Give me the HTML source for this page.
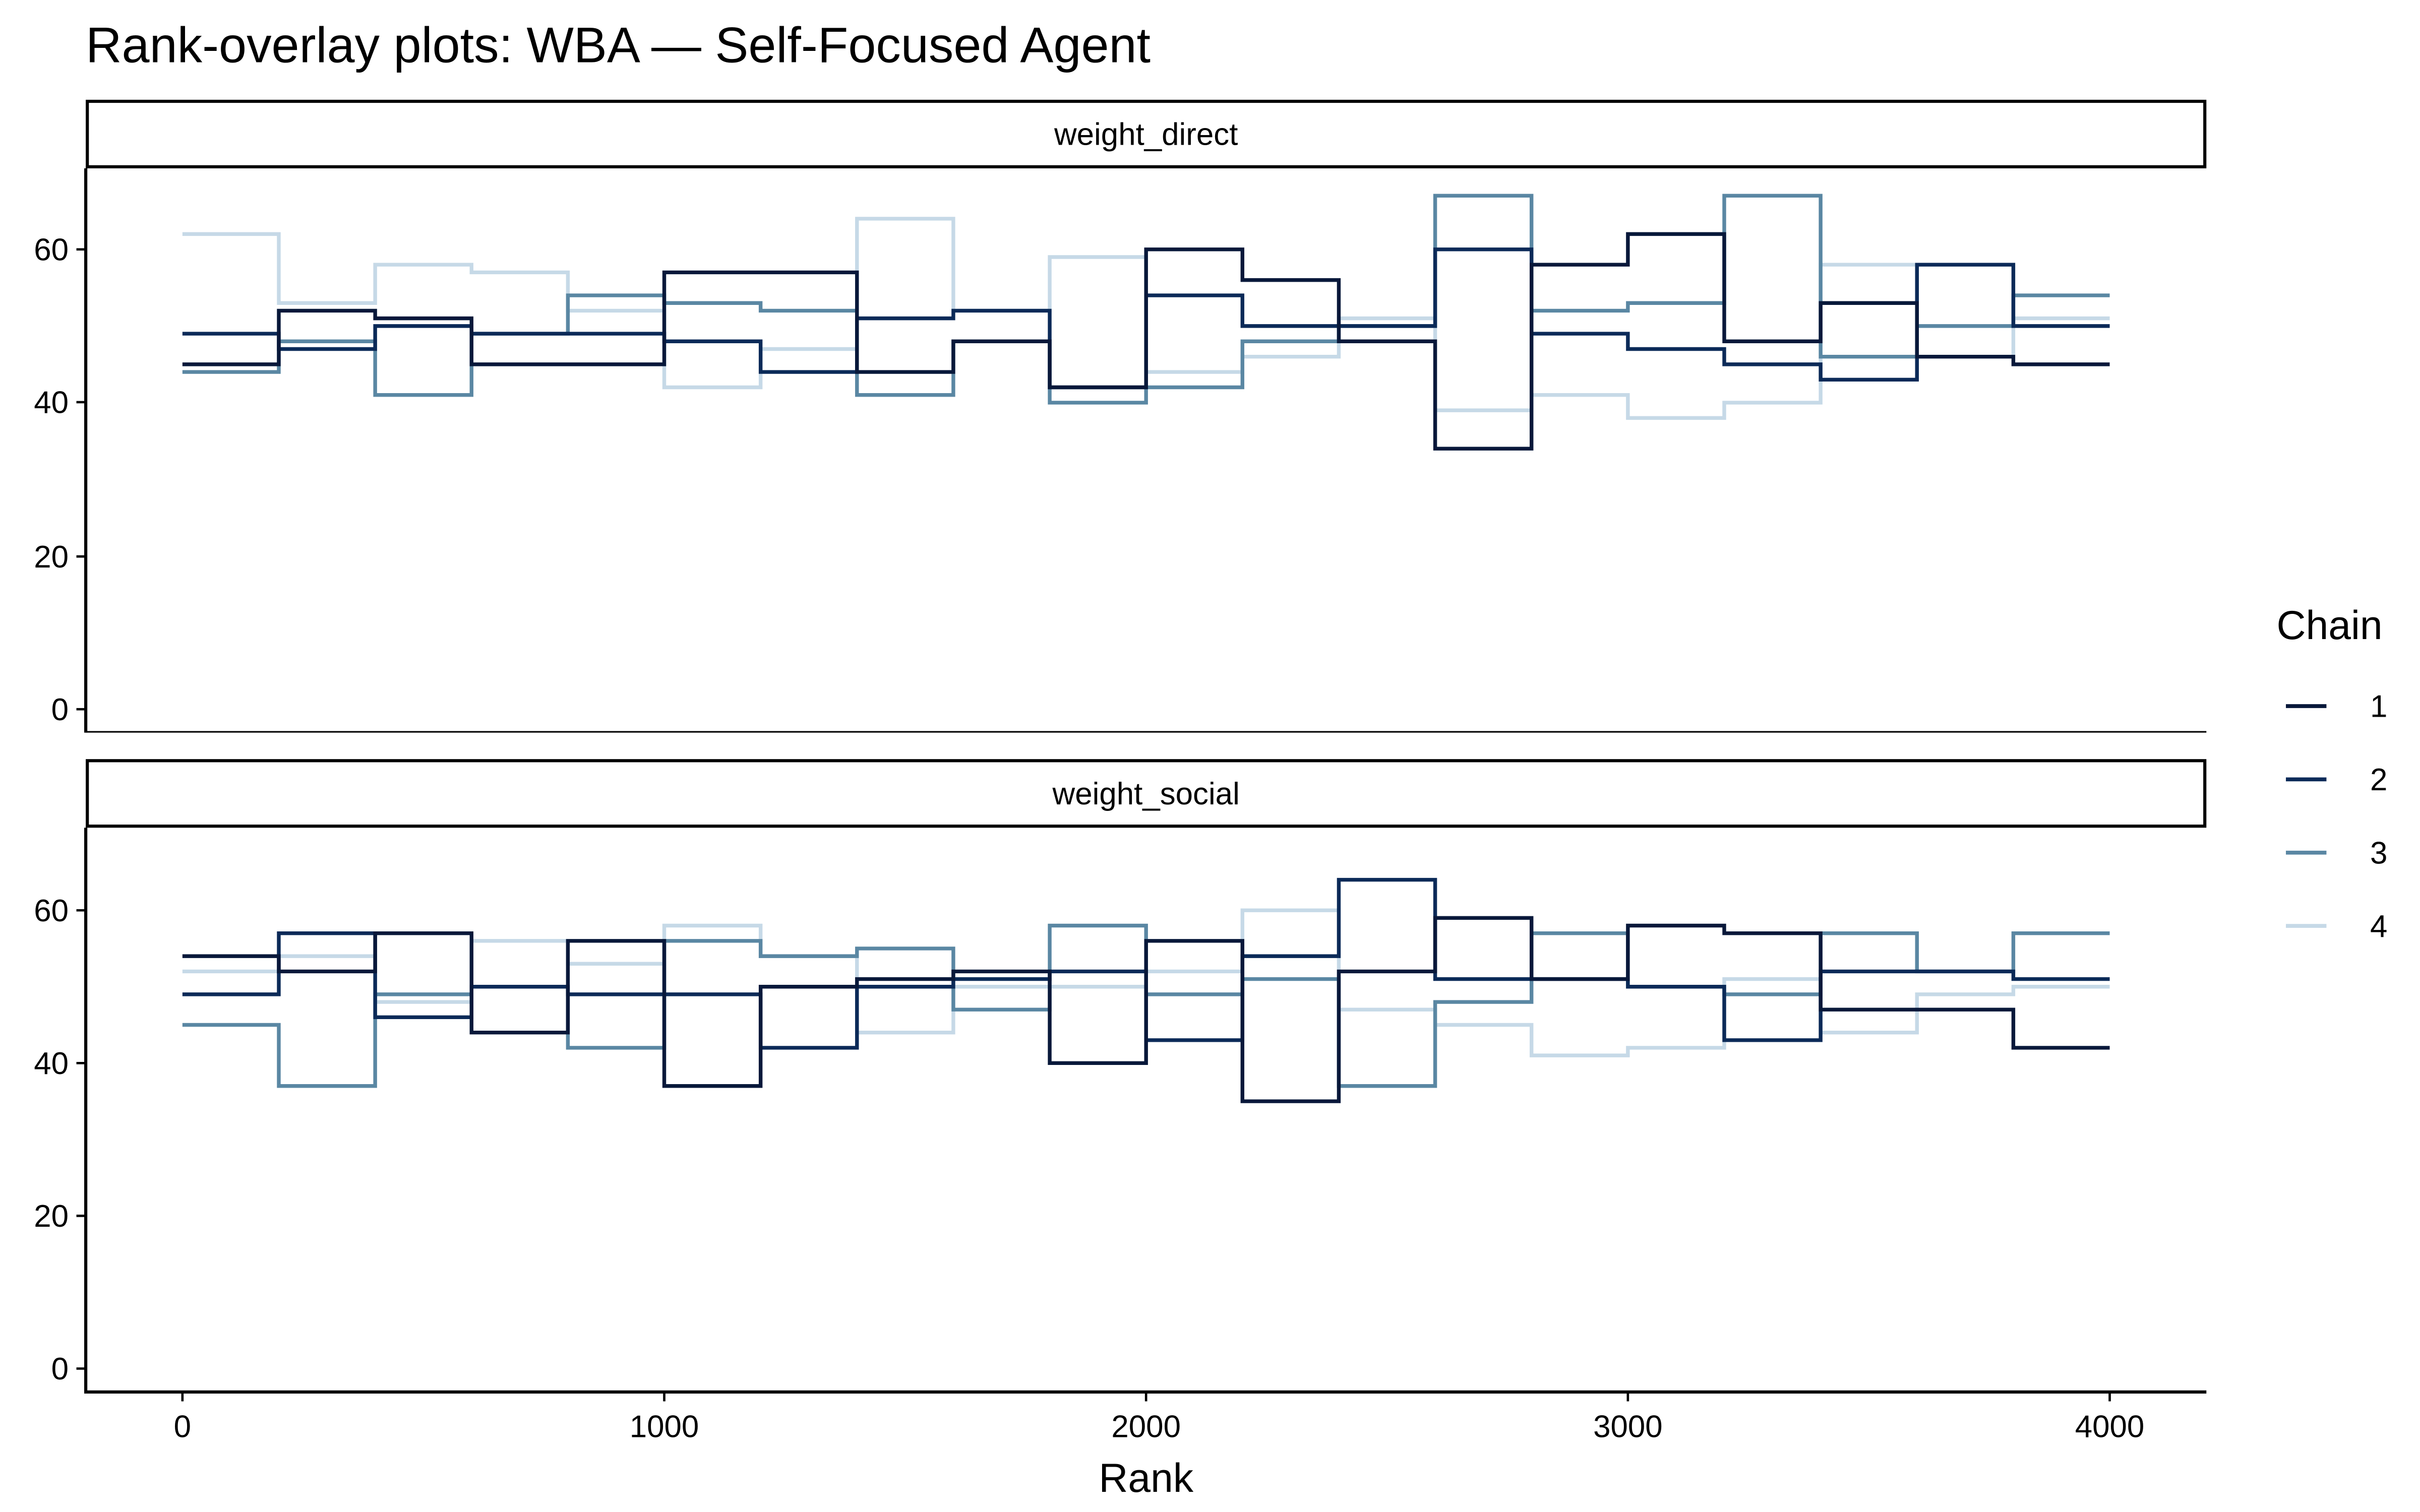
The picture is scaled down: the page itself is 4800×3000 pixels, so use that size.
<!DOCTYPE html>
<html><head><meta charset="utf-8"><style>html,body{margin:0;padding:0;background:#fff}svg{display:block}</style></head>
<body>
<svg id="s" xmlns="http://www.w3.org/2000/svg" width="4800" height="3000" viewBox="0 0 1552 970" preserveAspectRatio="none" font-family="Liberation Sans, Arial, sans-serif">
<rect width="1552" height="970" fill="#fff"/>
<text x="55" y="40" font-size="32">Rank-overlay plots: WBA — Self-Focused Agent</text>
<rect x="56" y="65" width="1358" height="42" fill="#fff" stroke="#000" stroke-width="2"/>
<text x="735" y="93" font-size="20" text-anchor="middle">weight_direct</text>
<rect x="56" y="488" width="1358" height="42" fill="#fff" stroke="#000" stroke-width="2"/>
<text x="735" y="516" font-size="20" text-anchor="middle">weight_social</text>
<g id="p"></g>
<line x1="55" y1="108" x2="55" y2="470" stroke="#000" stroke-width="2"/>
<line x1="55" y1="469.5" x2="1415" y2="469.5" stroke="#000" stroke-width="1"/>
<line x1="55" y1="531" x2="55" y2="894" stroke="#000" stroke-width="2"/>
<line x1="54" y1="893" x2="1415" y2="893" stroke="#000" stroke-width="2"/>
<g font-size="20" text-anchor="end">
<text x="44" y="167">60</text><text x="44" y="265">40</text><text x="44" y="364">20</text><text x="44" y="462">0</text>
<text x="44" y="591">60</text><text x="44" y="689">40</text><text x="44" y="787">20</text><text x="44" y="885">0</text>
</g>
<g stroke="#000" stroke-width="1.5">
<line x1="49" x2="55" y1="160" y2="160"/><line x1="49" x2="55" y1="258" y2="258"/><line x1="49" x2="55" y1="357" y2="357"/><line x1="49" x2="55" y1="455" y2="455"/>
<line x1="49" x2="55" y1="584" y2="584"/><line x1="49" x2="55" y1="682" y2="682"/><line x1="49" x2="55" y1="780" y2="780"/><line x1="49" x2="55" y1="878" y2="878"/>
<line y1="893" y2="899" x1="117" x2="117"/><line y1="893" y2="899" x1="426" x2="426"/><line y1="893" y2="899" x1="735" x2="735"/><line y1="893" y2="899" x1="1044" x2="1044"/><line y1="893" y2="899" x1="1353" x2="1353"/>
</g>
<g font-size="20" text-anchor="middle">
<text x="117" y="922">0</text><text x="426" y="922">1000</text><text x="735" y="922">2000</text><text x="1044" y="922">3000</text><text x="1353" y="922">4000</text>
</g>
<text x="735" y="957" font-size="26" text-anchor="middle">Rank</text>
<text x="1460" y="410" font-size="26">Chain</text>
<g stroke-width="2.5">
<line x1="1466" x2="1492" y1="453" y2="453" stroke="#08183a"/>
<line x1="1466" x2="1492" y1="500" y2="500" stroke="#0b2a58"/>
<line x1="1466" x2="1492" y1="547" y2="547" stroke="#5a87a3"/>
<line x1="1466" x2="1492" y1="594" y2="594" stroke="#c6d9e7"/>
</g>
<g font-size="20"><text x="1520" y="460">1</text><text x="1520" y="507">2</text><text x="1520" y="554">3</text><text x="1520" y="601">4</text></g>
</svg>
<script>
var cols=["#08183a","#0b2a58","#5a87a3","#c6d9e7"];
var P1=[[45,52,51,45,45,57,57,44,48,42,60,56,48,34,58,62,48,53,46,45],
[49,47,50,49,49,48,44,51,52,42,54,50,50,60,49,47,45,43,58,50],
[44,48,41,49,54,53,52,41,48,40,42,48,50,67,52,53,67,46,50,54],
[62,53,58,57,52,42,47,64,52,59,44,46,51,39,41,38,40,58,46,51]];
var P2=[[54,52,57,44,56,37,50,51,52,40,56,35,52,59,51,58,57,47,47,42],
[49,57,46,50,49,49,42,50,51,52,43,54,64,51,51,50,43,52,52,51],
[45,37,49,50,42,56,54,55,47,58,49,51,37,48,57,50,49,57,52,57],
[52,54,48,56,53,58,54,44,50,50,52,60,47,45,41,42,51,44,49,50]];
var g=document.getElementById("p"),ns="http://www.w3.org/2000/svg";
function X(r){return 117+r*0.309;}
function draw(D,y0,k){for(var c=3;c>=0;c--){var v=D[c],d="";for(var i=0;i<20;i++){var y=y0-v[i]*k;d+=(i?"L":"M")+X(200*i)+" "+y+"L"+X(200*(i+1))+" "+y;}
var p=document.createElementNS(ns,"path");p.setAttribute("d",d);p.setAttribute("fill","none");p.setAttribute("stroke",cols[c]);p.setAttribute("stroke-width","2.4");g.appendChild(p);}}
draw(P1,455,4.917);draw(P2,878,4.9);
</script>
</body></html>
